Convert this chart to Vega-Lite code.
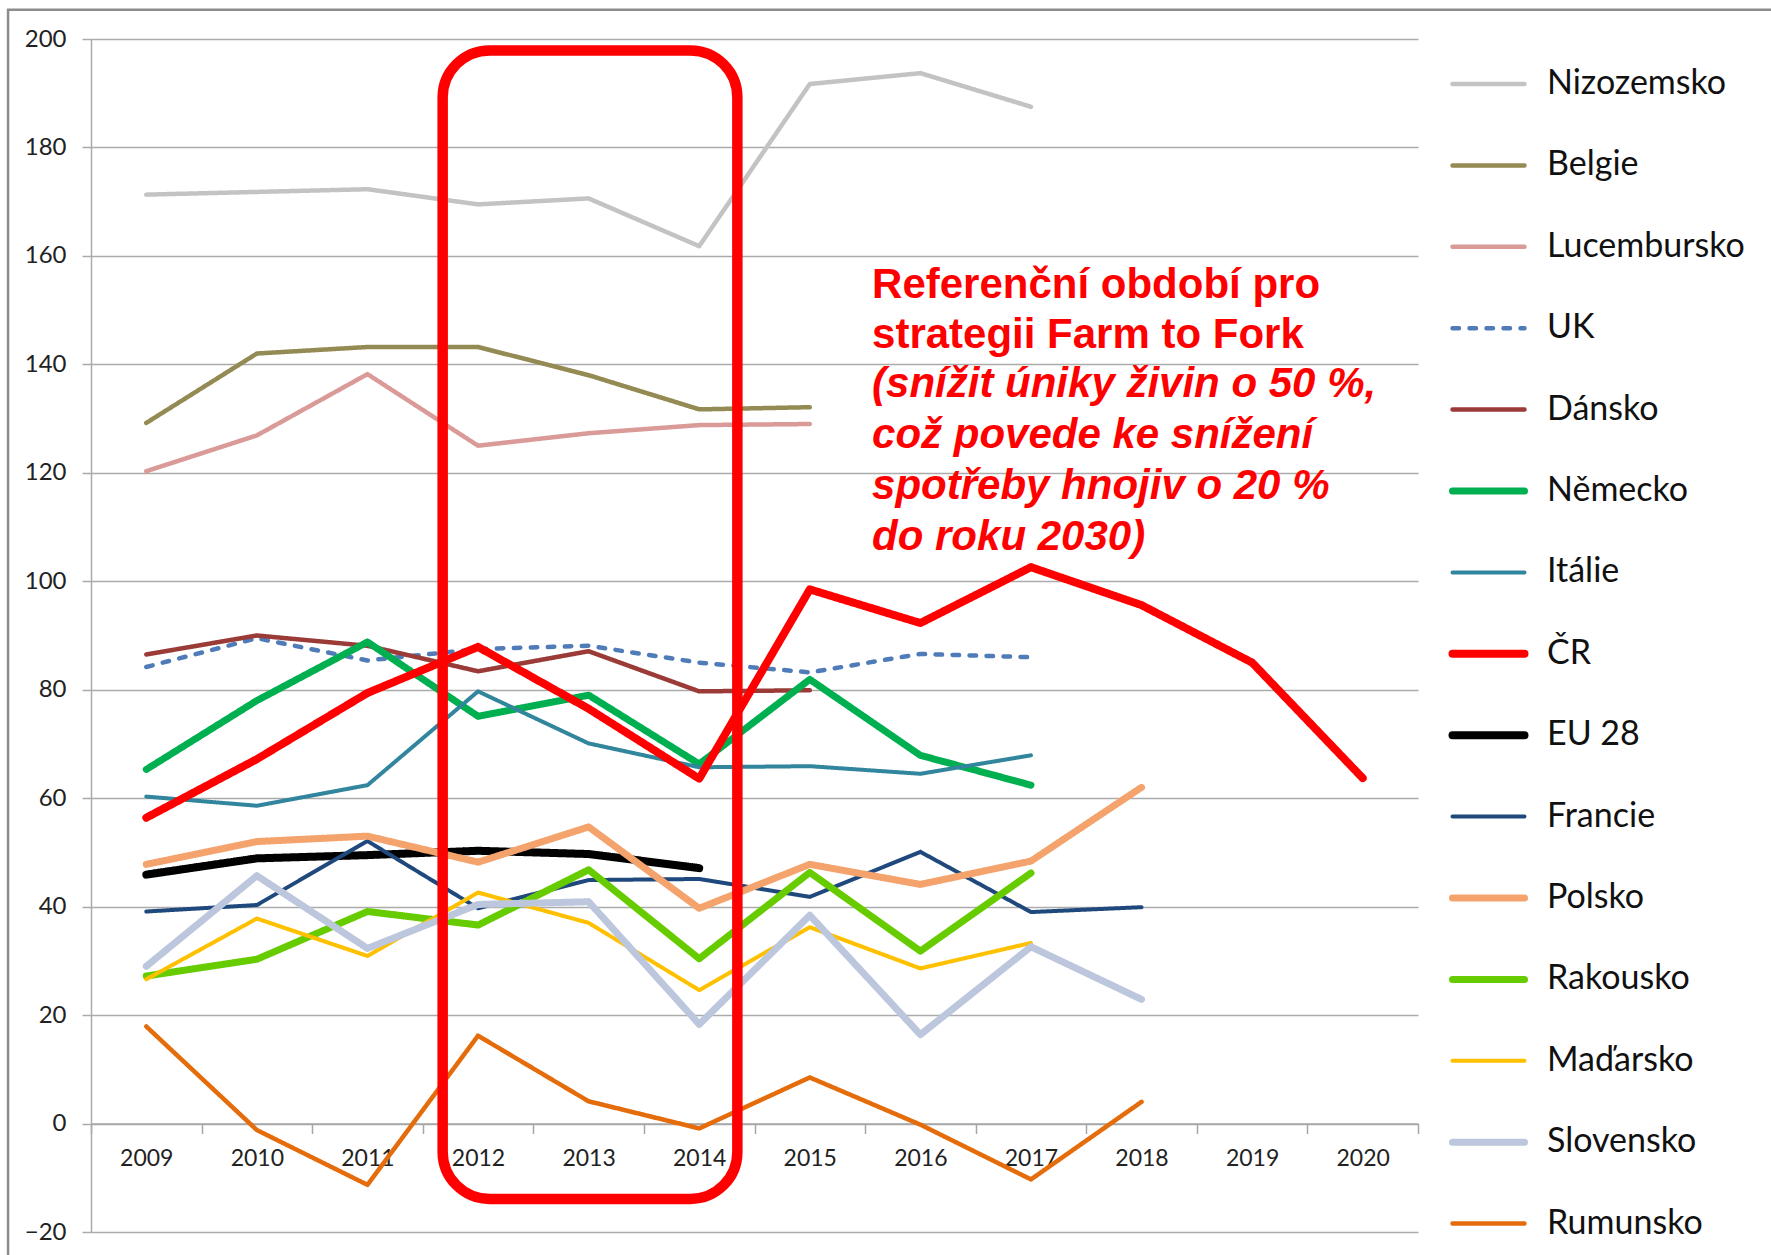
{
  "$schema": "https://vega.github.io/schema/vega-lite/v6.json",
  "width": 1327,
  "height": 1193,
  "autosize": {"type": "none"},
  "padding": {"left": 91, "top": 39, "right": 353, "bottom": 23},
  "background": "white",
  "config": {"view": {"stroke": null}, "font": "Lato"},
  "datasets": {
    "series": [
      {"country": "Nizozemsko", "year": 2009, "value": 171.3},
      {"country": "Nizozemsko", "year": 2010, "value": 171.8},
      {"country": "Nizozemsko", "year": 2011, "value": 172.3},
      {"country": "Nizozemsko", "year": 2012, "value": 169.5},
      {"country": "Nizozemsko", "year": 2013, "value": 170.6},
      {"country": "Nizozemsko", "year": 2014, "value": 161.8},
      {"country": "Nizozemsko", "year": 2015, "value": 191.7},
      {"country": "Nizozemsko", "year": 2016, "value": 193.7},
      {"country": "Nizozemsko", "year": 2017, "value": 187.5},
      {"country": "Belgie", "year": 2009, "value": 129.2},
      {"country": "Belgie", "year": 2010, "value": 142.0},
      {"country": "Belgie", "year": 2011, "value": 143.2},
      {"country": "Belgie", "year": 2012, "value": 143.2},
      {"country": "Belgie", "year": 2013, "value": 138.0},
      {"country": "Belgie", "year": 2014, "value": 131.7},
      {"country": "Belgie", "year": 2015, "value": 132.1},
      {"country": "Lucembursko", "year": 2009, "value": 120.3},
      {"country": "Lucembursko", "year": 2010, "value": 126.9},
      {"country": "Lucembursko", "year": 2011, "value": 138.2},
      {"country": "Lucembursko", "year": 2012, "value": 125.0},
      {"country": "Lucembursko", "year": 2013, "value": 127.3},
      {"country": "Lucembursko", "year": 2014, "value": 128.8},
      {"country": "Lucembursko", "year": 2015, "value": 129.0},
      {"country": "UK", "year": 2009, "value": 84.2},
      {"country": "UK", "year": 2010, "value": 89.5},
      {"country": "UK", "year": 2011, "value": 85.4},
      {"country": "UK", "year": 2012, "value": 87.5},
      {"country": "UK", "year": 2013, "value": 88.1},
      {"country": "UK", "year": 2014, "value": 85.0},
      {"country": "UK", "year": 2015, "value": 83.2},
      {"country": "UK", "year": 2016, "value": 86.6},
      {"country": "UK", "year": 2017, "value": 86.0},
      {"country": "Dánsko", "year": 2009, "value": 86.5},
      {"country": "Dánsko", "year": 2010, "value": 90.0},
      {"country": "Dánsko", "year": 2011, "value": 88.1},
      {"country": "Dánsko", "year": 2012, "value": 83.4},
      {"country": "Dánsko", "year": 2013, "value": 87.1},
      {"country": "Dánsko", "year": 2014, "value": 79.7},
      {"country": "Dánsko", "year": 2015, "value": 79.9},
      {"country": "Německo", "year": 2009, "value": 65.3},
      {"country": "Německo", "year": 2010, "value": 78.0},
      {"country": "Německo", "year": 2011, "value": 88.8},
      {"country": "Německo", "year": 2012, "value": 75.1},
      {"country": "Německo", "year": 2013, "value": 79.0},
      {"country": "Německo", "year": 2014, "value": 66.3},
      {"country": "Německo", "year": 2015, "value": 81.9},
      {"country": "Německo", "year": 2016, "value": 67.9},
      {"country": "Německo", "year": 2017, "value": 62.4},
      {"country": "Itálie", "year": 2009, "value": 60.3},
      {"country": "Itálie", "year": 2010, "value": 58.6},
      {"country": "Itálie", "year": 2011, "value": 62.4},
      {"country": "Itálie", "year": 2012, "value": 79.7},
      {"country": "Itálie", "year": 2013, "value": 70.1},
      {"country": "Itálie", "year": 2014, "value": 65.7},
      {"country": "Itálie", "year": 2015, "value": 65.9},
      {"country": "Itálie", "year": 2016, "value": 64.5},
      {"country": "Itálie", "year": 2017, "value": 67.9},
      {"country": "ČR", "year": 2009, "value": 56.4},
      {"country": "ČR", "year": 2010, "value": 67.2},
      {"country": "ČR", "year": 2011, "value": 79.4},
      {"country": "ČR", "year": 2012, "value": 87.9},
      {"country": "ČR", "year": 2013, "value": 76.5},
      {"country": "ČR", "year": 2014, "value": 63.6},
      {"country": "ČR", "year": 2015, "value": 98.5},
      {"country": "ČR", "year": 2016, "value": 92.3},
      {"country": "ČR", "year": 2017, "value": 102.6},
      {"country": "ČR", "year": 2018, "value": 95.6},
      {"country": "ČR", "year": 2019, "value": 85.0},
      {"country": "ČR", "year": 2020, "value": 63.7},
      {"country": "EU 28", "year": 2009, "value": 45.9},
      {"country": "EU 28", "year": 2010, "value": 48.9},
      {"country": "EU 28", "year": 2011, "value": 49.5},
      {"country": "EU 28", "year": 2012, "value": 50.3},
      {"country": "EU 28", "year": 2013, "value": 49.7},
      {"country": "EU 28", "year": 2014, "value": 47.1},
      {"country": "Francie", "year": 2009, "value": 39.1},
      {"country": "Francie", "year": 2010, "value": 40.3},
      {"country": "Francie", "year": 2011, "value": 52.1},
      {"country": "Francie", "year": 2012, "value": 39.7},
      {"country": "Francie", "year": 2013, "value": 44.9},
      {"country": "Francie", "year": 2014, "value": 45.1},
      {"country": "Francie", "year": 2015, "value": 41.8},
      {"country": "Francie", "year": 2016, "value": 50.1},
      {"country": "Francie", "year": 2017, "value": 39.0},
      {"country": "Francie", "year": 2018, "value": 39.9},
      {"country": "Polsko", "year": 2009, "value": 47.8},
      {"country": "Polsko", "year": 2010, "value": 52.0},
      {"country": "Polsko", "year": 2011, "value": 53.0},
      {"country": "Polsko", "year": 2012, "value": 48.2},
      {"country": "Polsko", "year": 2013, "value": 54.7},
      {"country": "Polsko", "year": 2014, "value": 39.7},
      {"country": "Polsko", "year": 2015, "value": 47.8},
      {"country": "Polsko", "year": 2016, "value": 44.1},
      {"country": "Polsko", "year": 2017, "value": 48.4},
      {"country": "Polsko", "year": 2018, "value": 62.0},
      {"country": "Rakousko", "year": 2009, "value": 27.2},
      {"country": "Rakousko", "year": 2010, "value": 30.3},
      {"country": "Rakousko", "year": 2011, "value": 39.1},
      {"country": "Rakousko", "year": 2012, "value": 36.6},
      {"country": "Rakousko", "year": 2013, "value": 46.8},
      {"country": "Rakousko", "year": 2014, "value": 30.4},
      {"country": "Rakousko", "year": 2015, "value": 46.3},
      {"country": "Rakousko", "year": 2016, "value": 31.8},
      {"country": "Rakousko", "year": 2017, "value": 46.2},
      {"country": "Maďarsko", "year": 2009, "value": 26.6},
      {"country": "Maďarsko", "year": 2010, "value": 37.8},
      {"country": "Maďarsko", "year": 2011, "value": 30.9},
      {"country": "Maďarsko", "year": 2012, "value": 42.6},
      {"country": "Maďarsko", "year": 2013, "value": 37.0},
      {"country": "Maďarsko", "year": 2014, "value": 24.6},
      {"country": "Maďarsko", "year": 2015, "value": 36.2},
      {"country": "Maďarsko", "year": 2016, "value": 28.6},
      {"country": "Maďarsko", "year": 2017, "value": 33.3},
      {"country": "Slovensko", "year": 2009, "value": 29.0},
      {"country": "Slovensko", "year": 2010, "value": 45.7},
      {"country": "Slovensko", "year": 2011, "value": 32.3},
      {"country": "Slovensko", "year": 2012, "value": 40.4},
      {"country": "Slovensko", "year": 2013, "value": 40.9},
      {"country": "Slovensko", "year": 2014, "value": 18.3},
      {"country": "Slovensko", "year": 2015, "value": 38.4},
      {"country": "Slovensko", "year": 2016, "value": 16.4},
      {"country": "Slovensko", "year": 2017, "value": 32.6},
      {"country": "Slovensko", "year": 2018, "value": 22.9},
      {"country": "Rumunsko", "year": 2009, "value": 17.9},
      {"country": "Rumunsko", "year": 2010, "value": -1.2},
      {"country": "Rumunsko", "year": 2011, "value": -11.3},
      {"country": "Rumunsko", "year": 2012, "value": 16.2},
      {"country": "Rumunsko", "year": 2013, "value": 4.1},
      {"country": "Rumunsko", "year": 2014, "value": -0.9},
      {"country": "Rumunsko", "year": 2015, "value": 8.5},
      {"country": "Rumunsko", "year": 2016, "value": -0.2},
      {"country": "Rumunsko", "year": 2017, "value": -10.3},
      {"country": "Rumunsko", "year": 2018, "value": 4.0}
    ]
  },
  "resolve": {"scale": {"x": "independent", "y": "independent"}},
  "layer": [
    {
      "data": {"values": [{}]},
      "mark": {"type": "rect", "fill": null, "filled": false, "stroke": "#8C8C8C", "strokeWidth": 2.5},
      "encoding": {
        "x": {"datum": -0.75, "type": "quantitative", "scale": {"domain": [0, 12], "nice": false, "zero": false}, "axis": null},
        "x2": {"datum": 15.5},
        "y": {"datum": 205.4, "type": "quantitative", "scale": {"domain": [-20, 200], "nice": false, "zero": false}, "axis": null},
        "y2": {"datum": -26}
      }
    },
    {
      "data": {"name": "series"},
      "mark": {"type": "line", "strokeCap": "round", "strokeJoin": "round"},
      "encoding": {
        "x": {
          "field": "year", "type": "ordinal",
          "scale": {"type": "band", "paddingInner": 0, "paddingOuter": 0, "domain": [2009, 2010, 2011, 2012, 2013, 2014, 2015, 2016, 2017, 2018, 2019, 2020]},
          "axis": {"title": null, "orient": "bottom", "offset": -108.5, "tickBand": "extent", "grid": false, "domainColor": "#A6A6A6", "domainWidth": 1.5, "tickColor": "#A6A6A6", "tickWidth": 1.5, "tickSize": 10, "labelFont": "Lato", "labelFontSize": 23, "labelColor": "#222222", "labelPadding": 14, "labelAngle": 0}
        },
        "y": {
          "field": "value", "type": "quantitative",
          "scale": {"domain": [-20, 200], "nice": false, "zero": false},
          "axis": {"title": null, "values": [-20, 0, 20, 40, 60, 80, 100, 120, 140, 160, 180, 200], "grid": true, "gridColor": "#ABABAB", "gridWidth": 1.5, "domainColor": "#ABABAB", "domainWidth": 1.5, "tickColor": "#ABABAB", "tickWidth": 1.5, "tickSize": 9, "labelFont": "Lato", "labelFontSize": 24, "labelColor": "#222222", "labelPadding": 16}
        },
        "color": {
          "field": "country", "type": "nominal",
          "scale": {
            "domain": ["Nizozemsko", "Belgie", "Lucembursko", "UK", "Dánsko", "Německo", "Itálie", "ČR", "EU 28", "Francie", "Polsko", "Rakousko", "Maďarsko", "Slovensko", "Rumunsko"],
            "range": ["#C3C3C3", "#948A54", "#DA9A98", "#4F7CB8", "#9B3B38", "#00B050", "#31859C", "#FF0000", "#000000", "#1F497D", "#F5A36C", "#66CC00", "#FFC000", "#BCC6DC", "#E46C0A"]
          },
          "legend": {
            "title": null, "orient": "none", "legendX": 1359, "legendY": 6.5, "padding": 0,
            "symbolType": "stroke", "symbolSize": 5184, "symbolStrokeWidth": 4.5,
            "labelFont": "Lato", "labelFontSize": 34, "labelColor": "#111111", "labelOffset": 20, "labelLimit": 400,
            "rowPadding": 25.4,
            "encode": {
              "symbols": {
                "update": {
                  "strokeWidth": {"signal": "(indexof(['ČR','EU 28'], datum.value) >= 0 ? 8 : (indexof(['Německo','Polsko','Rakousko','Slovensko'], datum.value) >= 0 ? 7 : (indexof(['Itálie','Francie','Maďarsko'], datum.value) >= 0 ? 4 : 4.5)))"},
                  "strokeDash": {"signal": "(datum.value === 'UK' ? [6.5, 10.5] : [1, 0])"},
                  "strokeCap": {"value": "round"}
                }
              }
            }
          }
        },
        "strokeWidth": {
          "condition": [
            {"test": "indexof(['ČR','EU 28'], datum.country) >= 0", "value": 8},
            {"test": "indexof(['Německo','Polsko','Rakousko','Slovensko'], datum.country) >= 0", "value": 7},
            {"test": "indexof(['Itálie','Francie','Maďarsko'], datum.country) >= 0", "value": 4}
          ],
          "value": 4.5
        },
        "strokeDash": {
          "condition": {"test": "datum.country === 'UK'", "value": [6.5, 10.5]},
          "value": [1, 0]
        }
      }
    },
    {
      "data": {"values": [{}]},
      "mark": {"type": "rect", "fill": null, "filled": false, "stroke": "#FF0000", "strokeWidth": 10.5, "cornerRadius": 47},
      "encoding": {
        "x": {"datum": 3.18, "type": "quantitative", "scale": {"domain": [0, 12], "nice": false, "zero": false}, "axis": null},
        "x2": {"datum": 5.845},
        "y": {"datum": 197.9, "type": "quantitative", "scale": {"domain": [-20, 200], "nice": false, "zero": false}, "axis": null},
        "y2": {"datum": -13.9}
      }
    },
    {
      "data": {"values": [{}]},
      "mark": {"type": "text", "align": "left", "baseline": "alphabetic", "font": "Liberation Sans", "fontWeight": "bold", "fontSize": 42, "color": "#FF0000", "lineBreak": "\n", "lineHeight": 50.2},
      "encoding": {
        "x": {"datum": 7.063, "type": "quantitative", "scale": {"domain": [0, 12], "nice": false, "zero": false}, "axis": null},
        "y": {"datum": 152.3, "type": "quantitative", "scale": {"domain": [-20, 200], "nice": false, "zero": false}, "axis": null},
        "text": {"value": "Referenční období pro\nstrategii Farm to Fork"}
      }
    },
    {
      "data": {"values": [{}]},
      "mark": {"type": "text", "align": "left", "baseline": "alphabetic", "font": "Liberation Sans", "fontWeight": "bold", "fontStyle": "italic", "fontSize": 42, "color": "#FF0000", "lineBreak": "\n", "lineHeight": 50.8},
      "encoding": {
        "x": {"datum": 7.063, "type": "quantitative", "scale": {"domain": [0, 12], "nice": false, "zero": false}, "axis": null},
        "y": {"datum": 133.9, "type": "quantitative", "scale": {"domain": [-20, 200], "nice": false, "zero": false}, "axis": null},
        "text": {"value": "(snížit úniky živin o 50 %,\ncož povede ke snížení\nspotřeby hnojiv o 20 %\ndo roku 2030)"}
      }
    }
  ]
}
